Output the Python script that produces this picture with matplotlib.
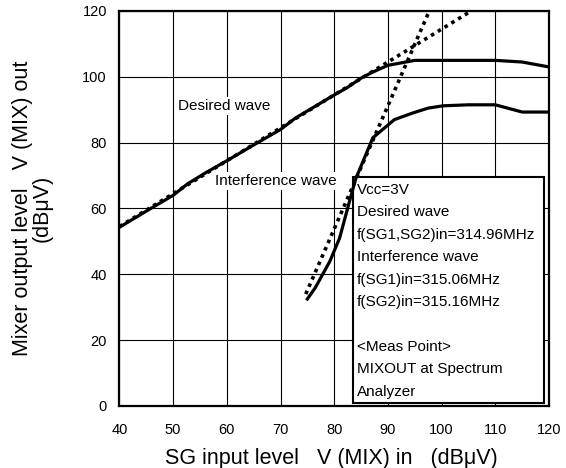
import numpy as np
import matplotlib
matplotlib.use('Agg')
import matplotlib.pyplot as plt
from matplotlib.patches import Rectangle

plt.rcParams['font.family'] = ['Liberation Sans', 'DejaVu Sans']

# measured curves (SG input level -> mixer output level, dBuV)
desired_x = [40, 45, 50, 52.7, 56, 60, 65, 70, 72.8, 76, 80, 82.3, 85, 87, 90, 95, 100, 105, 110, 115, 120]
desired_y = [54.3, 59.2, 64, 67.5, 70.8, 74.5, 79.3, 84, 87.5, 90.6, 94.5, 96.6, 99.6, 101.3, 103.5, 105, 105, 105, 105, 104.5, 103]

interf_x = [75, 76.5, 79.2, 81, 82.9, 84, 87.2, 91.2, 94.6, 97.5, 100.3, 105, 110, 115, 120]
interf_y = [32.5, 36, 44, 51, 62.5, 69, 81.5, 87, 89, 90.5, 91.2, 91.5, 91.5, 89.3, 89.3]

# extrapolated (ideal) lines
desired_ideal_x = [40, 105.5]
desired_ideal_y = [54.5, 120]
interf_ideal_x = [74.7, 97.7]
interf_ideal_y = [34, 120]

xticks = [40, 50, 60, 70, 80, 90, 100, 110, 120]
yticks = [0, 20, 40, 60, 80, 100, 120]

note_lines = ['Vcc=3V', 'Desired wave', 'f(SG1,SG2)in=314.96MHz', 'Interference wave',
              'f(SG1)in=315.06MHz', 'f(SG2)in=315.16MHz', '', '<Meas Point>',
              'MIXOUT at Spectrum', 'Analyzer']

DPI = 100
fig = plt.figure(figsize=(566/DPI, 468/DPI), dpi=DPI)
ax = fig.add_axes([0.211, 0.1325, 0.759, 0.844])

ax.set_xlim(40, 120)
ax.set_ylim(0, 120)
ax.set_xticks(xticks)
ax.set_yticks(yticks)
ax.tick_params(length=0, labelsize=10.5)
ax.tick_params(axis='x', pad=12)
ax.tick_params(axis='y', pad=9)
ax.grid(True, color='black', linewidth=0.8)
ax.set_axisbelow(True)
for s in ax.spines.values():
    s.set_linewidth(1.6)

# note box
box = Rectangle((83.5, 0.9), 35.6, 68.7, facecolor='white', edgecolor='black',
                linewidth=1.5, zorder=2)
ax.add_patch(box)

ax.plot(desired_ideal_x, desired_ideal_y, color='black', linestyle=(0, (1, 1.2)),
        linewidth=2.6, zorder=3)
ax.plot(interf_ideal_x, interf_ideal_y, color='black', linestyle=(0, (1, 1.2)),
        linewidth=2.6, zorder=3)
ax.plot(desired_x, desired_y, color='black', linewidth=2.3, zorder=4)
ax.plot(interf_x, interf_y, color='black', linewidth=2.3, zorder=4)

ax.text(51.0, 91.2, 'Desired wave', fontsize=11, va='center', ha='left', zorder=5,
        bbox=dict(facecolor='white', edgecolor='none', pad=1.5))
ax.text(57.8, 68.4, 'Interference wave', fontsize=11, va='center', ha='left', zorder=5,
        bbox=dict(facecolor='white', edgecolor='none', pad=1.5))

for i, line in enumerate(note_lines):
    ax.text(84.2, 65.6 - i*6.8, line, fontsize=11, va='center', ha='left', zorder=5)

fig.text(0.057, 0.5556, 'Mixer output level   V (MIX) out\n(dB\u03bcV)', rotation=90,
         fontsize=15.5, ha='center', va='center', multialignment='center', linespacing=0.95)
fig.text(0.585, 0.008, 'SG input level   V (MIX) in   (dB\u03bcV)', fontsize=15.5,
         ha='center', va='baseline')

plt.savefig('out.png', dpi=DPI, facecolor='w')
